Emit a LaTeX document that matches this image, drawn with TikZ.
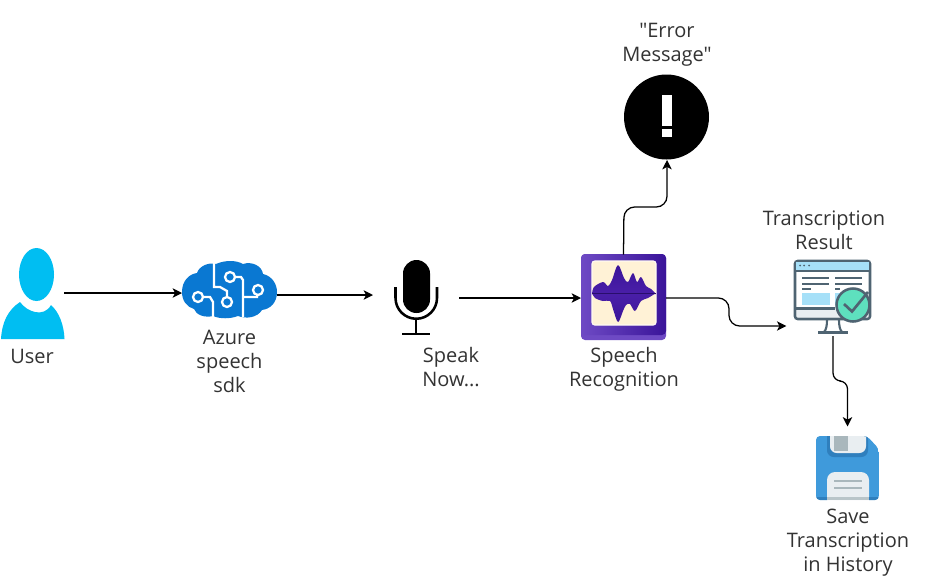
\documentclass[tikz,border=0pt]{standalone}
\usepackage{fontspec}
\setmainfont[Ligatures=TeXOff]{Open Sans}
\usetikzlibrary{arrows.meta,calc}
\definecolor{txt}{HTML}{333333}
\definecolor{skyb}{HTML}{00BEF2}
\definecolor{azb}{HTML}{0A78D2}
\definecolor{purp}{HTML}{4A1FA8}
\definecolor{purpd}{HTML}{3A149A}
\definecolor{purpl}{HTML}{6E4AC4}
\definecolor{cream}{HTML}{FFF2D6}
\definecolor{slateb}{HTML}{4F6472}
\definecolor{ltb}{HTML}{A6E0F8}
\definecolor{mint}{HTML}{5EE0BE}
\definecolor{ltg}{HTML}{E9EEF1}
\definecolor{flop}{HTML}{3F9ADB}
\definecolor{flopd}{HTML}{2F7FBD}
\definecolor{gr}{HTML}{A9B7BC}
\tikzset{
  x=0.75pt,y=-0.75pt,
  lbl/.style={align=center,text=txt,font=\fontsize{15pt}{18pt}\selectfont,inner sep=0pt},
  icon/.style={rectangle,draw=none,inner sep=0pt,outer sep=0pt},
  conn/.style={draw=black,line width=0.95pt,-{Stealth[length=7pt,width=7pt,inset=1.8pt]},rounded corners=8pt}
}
\begin{document}
\begin{tikzpicture}
\useasboundingbox (0,0) rectangle (928,579);
\fill[white] (0,0) rectangle (928,579);
% icon place-holders (named anchors for connectors)
\node[icon,minimum width=48pt,minimum height=68pt] (user) at (32,293) {};
\node[icon,minimum width=71.25pt,minimum height=45pt] (azure) at (229.5,293) {};
\node[icon,minimum width=64.5pt,minimum height=60pt] (mic) at (416,297) {};
\node[icon,minimum width=63.75pt,minimum height=63.75pt] (recog) at (623.5,297) {};
\node[icon,minimum width=63pt,minimum height=63pt] (err) at (666.5,117) {};
\node[icon,minimum width=70pt,minimum height=60pt] (mon) at (833,296) {};
\node[icon,minimum width=48pt,minimum height=48pt] (save) at (848,468) {};
% user
\fill[skyb] (36.5,274.5) ellipse [x radius=17.5,y radius=26.5];
\fill[skyb] (1,339) .. controls (2,322) and (8,310) .. (20,302)
  .. controls (27,312) and (44,318) .. (51,305)
  .. controls (59,312) and (64,325) .. (64.5,339) -- cycle;
% azure brain
\fill[azb] (182,292) .. controls (182,281) and (189,274) .. (197,273)
  .. controls (199,266) and (209,262) .. (216,264)
  .. controls (225,260) and (236,260) .. (243,264)
  .. controls (252,261) and (262,266) .. (263,274)
  .. controls (272,276) and (277,284) .. (277,292)
  .. controls (277,303) and (270,309) .. (262,310)
  .. controls (257,318) and (246,319) .. (238,316)
  .. controls (230,319) and (220,319) .. (213,316)
  .. controls (205,318) and (196,315) .. (194,309)
  .. controls (187,307) and (182,301) .. (182,292) -- cycle;
\begin{scope}[draw=white,line width=1.7pt]
\draw (214,263) -- (214,287) -- (220,287) -- (227,291) -- (227,302);
\draw (230,277) -- (241,277) -- (243,280) -- (243,317);
\draw (258,290) -- (257,297) -- (243,297);
\draw (198,297) -- (210,297) -- (213,302) -- (213,317);
\draw[fill=azb] (198,297) circle (5);
\draw[fill=azb] (230,277) circle (5);
\draw[fill=azb] (227,302) circle (5);
\draw[fill=azb] (258,290) circle (5);
\end{scope}
% microphone
\fill[black] (403,273.5) arc (180:360:13.5) -- (430,299.5) arc (0:180:13.5) -- cycle;
\draw[black,line width=1.9pt] (395.5,287) -- (395.5,298) arc (180:0:20.75) -- (437,287);
\draw[black,line width=1.9pt] (416,319) -- (416,333);
\draw[black,line width=2.2pt] (402,334) -- (430,334);
% speech recognition icon
\fill[purpl,rounded corners=3pt] (581,254) rectangle (666,340);
\shade[left color=purpl,right color=purpd,rounded corners=3pt] (581,254) rectangle (666,335);
\fill[cream,rounded corners=2pt,draw=white!70!cream,line width=0.8pt] (592,261) rectangle (656,325);
\shade[top color=purpd,bottom color=purp]
  plot[smooth,tension=0.55] coordinates {(592,294) (594,287) (603,282) (608,286) (612,280) (618,265) (624,278) (628,282) (633,273) (637,282) (641,277) (646,286) (651,289) (656,294)} -- cycle;
\shade[top color=purp,bottom color=purpd]
  plot[smooth,tension=0.55] coordinates {(592,293) (595,298) (603,301) (610,301) (613,309) (618,322) (623,311) (626,305) (630,304) (635,311) (641,301) (648,298) (656,293)} -- cycle;
\draw[purpd!70!black,line width=0.9pt] (592,293.5) -- (656,293.5);
% error
\fill[black] (err.center) circle (42.5);
\fill[white] (662,95) rectangle (671.5,126);
\fill[white] (662,129) rectangle (671.5,137);
% monitor
\fill[white,draw=slateb,line width=1.9pt,rounded corners=2pt] (795,261) rectangle (870,319);
\fill[ltb] (796,262) rectangle (869,270);
\draw[slateb,line width=1.1pt] (795,271) -- (870,271);
\foreach \xx in {800,804,809} \fill[slateb] (\xx,265.5) circle (1);
\draw[slateb,line width=1.8pt] (802,278) -- (829,278) (835,278) -- (862,278)
  (802,284) -- (829,284) (835,284) -- (862,284)
  (802,289) -- (811,289) (835,289) -- (840,289)
  (796,308.5) -- (835,308.5);
\fill[ltb] (802,293) rectangle (830,305);
\fill[ltb] (835,293) rectangle (845,305);
\fill[ltg] (797,310) rectangle (868,317);
\draw[slateb,line width=1.6pt] (827,320) .. controls (827,326) and (826,330) .. (824,332)
  (839,320) .. controls (839,326) and (840,330) .. (842,332);
\draw[slateb,line width=1.9pt] (818,332.5) -- (848,332.5);
\draw[slateb,line width=1.9pt,fill=mint] (853,305) circle (16.5);
\draw[slateb,line width=2pt] (844,304) -- (852,311.5) -- (868,292);
% save
\begin{scope}
\clip[rounded corners=3pt] (816,436) -- (816,500) -- (879,500) -- (879,449) -- (867,436) -- cycle;
\fill[flop] (816,436) rectangle (879,500);
\fill[flopd,rounded corners=5pt] (827,430) rectangle (868,457);
\fill[ltg,rounded corners=5pt] (830,426) rectangle (866,453);
\fill[gr] (834,430) rectangle (848,451);
\fill[ltg,rounded corners=6pt] (827,472) rectangle (869,510);
\fill[flopd] (816,497) rectangle (827,500) (869,497) rectangle (879,500);
\fill[gr!75!ltg] (827,497) rectangle (869,500);
\end{scope}
\draw[gr,line width=1.9pt] (834,481) -- (862,481) (834,488) -- (862,488);
% labels
\node[lbl] (luser) at (32,356) {User};
\node[lbl] (lazure) at (229.5,361) {Azure\\speech\\sdk};
\node[lbl] (lmic) at (451,367) {Speak\\Now...};
\node[lbl] (lrecog) at (624,369) {Speech\\Recognition};
\node[lbl] (lerr) at (667,45) {"Error\\Message"};
\node[lbl] (lmon) at (824,230) {Transcription\\Result};
\node[lbl] (lsave) at (848,543) {Save\\Transcription\\in History};
% connectors
\draw[conn] (user.east) -- (azure.west);
\draw[conn] ($(azure.east)+(0,2)$) -- ($(mic.west)+(0,-2)$);
\draw[conn] ($(mic.east)+(0,1)$) -- ($(recog.west)+(0,1)$);
\draw[conn] (recog.north) -- (624,207) -- (667,207) -- ($(err.south)+(0.5,1)$);
\draw[conn] ($(recog.east)+(0,1)$) -- (729,298) -- (729,326) -- ($(mon.west)+(0,30)$);
\draw[conn,rounded corners=6pt] (mon.south) -- (833,381) -- (847.5,381) -- ($(save.north)+(-0.5,-9.5)$);
\end{tikzpicture}
\end{document}
